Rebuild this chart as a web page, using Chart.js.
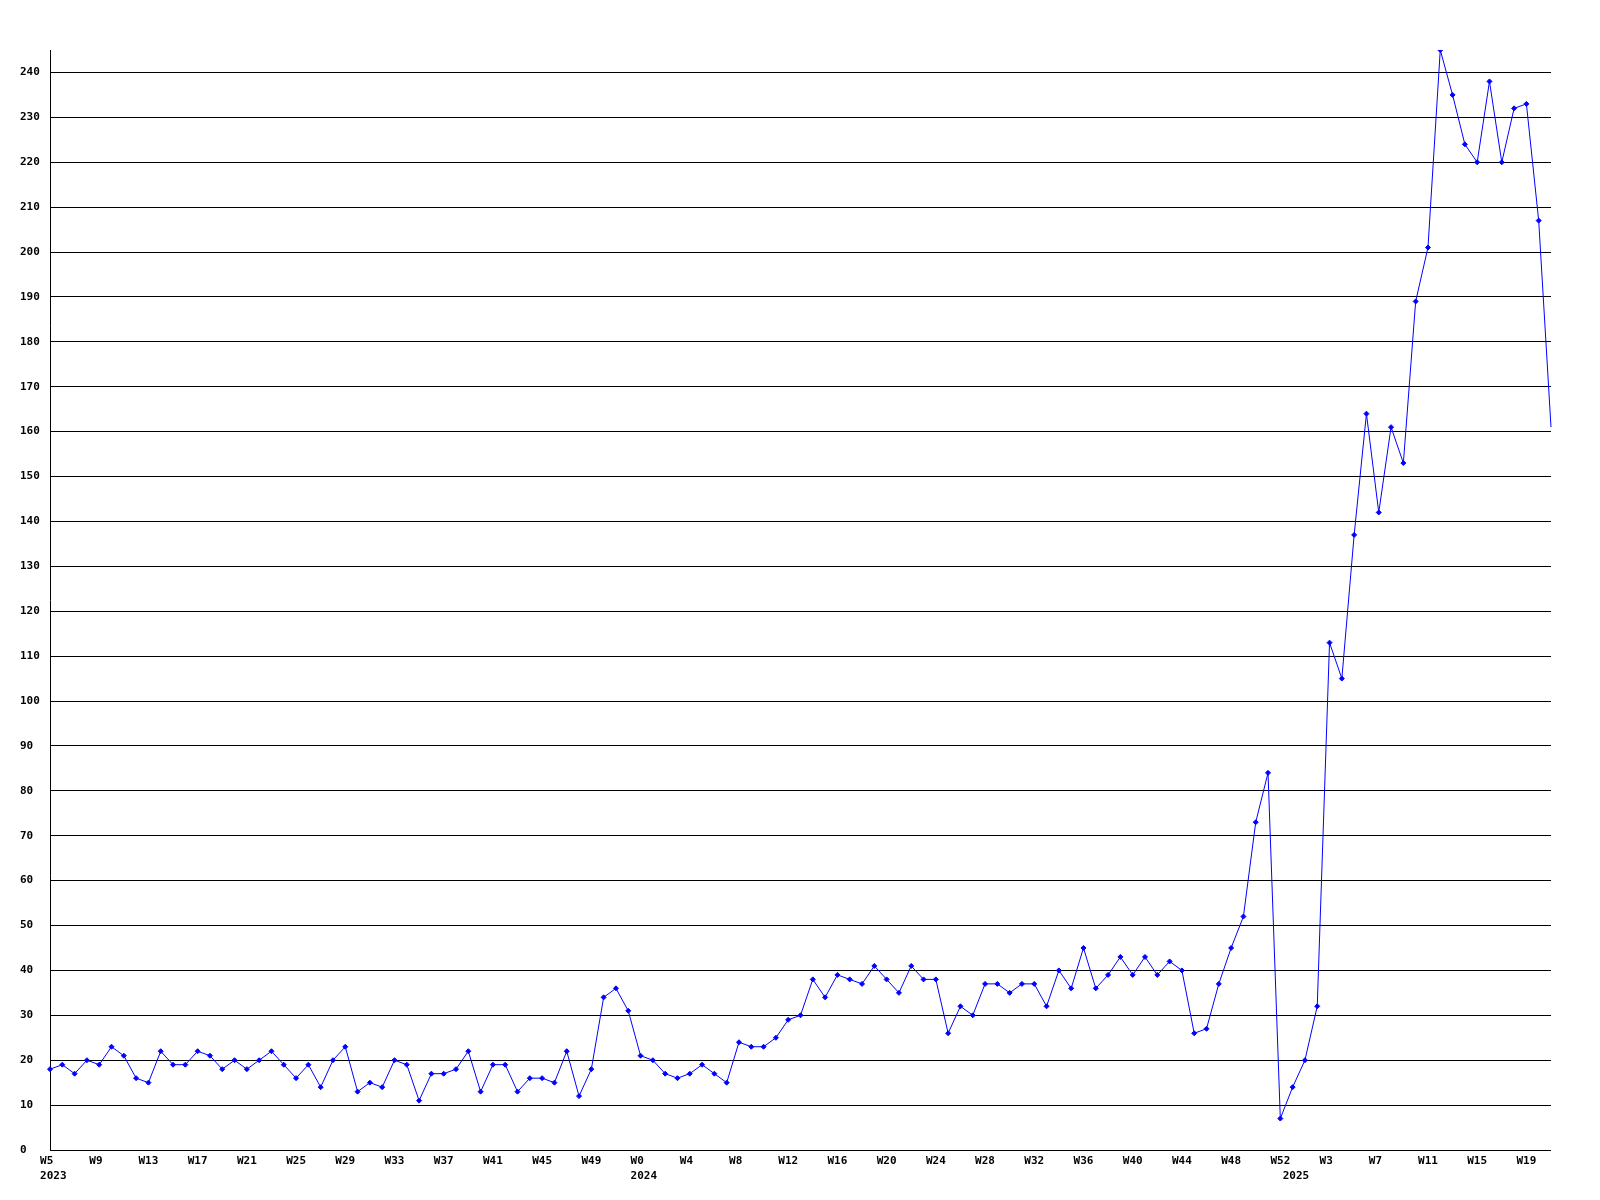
<!DOCTYPE html>
<html>
<head>
<meta charset="utf-8">
<title>Weekly counts</title>
<script src="https://cdn.jsdelivr.net/npm/chart.js@4.4.1/dist/chart.umd.min.js"></script>
<style>
  html, body { margin: 0; padding: 0; background: #fff; }
  canvas { display: block; }
</style>
</head>
<body>
<canvas id="chart" width="1600" height="1200"></canvas>
<script>
// Weekly counts
const years = ['2023', '2024', '2025']
const firstWeek = [5, 0, 0]
const counts2023 = [18, 19, 17, 20, 19, 23, 21, 16, 15, 22, 19, 19, 22, 21, 18, 20, 18, 20, 22, 19,
  16, 19, 14, 20, 23, 13, 15, 14, 20, 19, 11, 17, 17, 18, 22, 13, 19, 19, 13, 16,
  16, 15, 22, 12, 18, 34, 36, 31]
const counts2024 = [21, 20, 17, 16, 17, 19, 17, 15, 24, 23, 23, 25, 29, 30, 38, 34, 39, 38, 37, 41,
  38, 35, 41, 38, 38, 26, 32, 30, 37, 37, 35, 37, 37, 32, 40, 36, 45, 36, 39, 43,
  39, 43, 39, 42, 40, 26, 27, 37, 45, 52, 73, 84, 7]
const counts2025 = [14, 20, 32, 113, 105, 137, 164, 142, 161, 153, 189, 201, 245, 235, 224, 220,
  238, 220, 232, 233, 207, 161]
const labelEvery = 4
const yMax = 245
const yStep = 10

// Build the category list (week + year) from the arrays above
const seriesByYear = [counts2023, counts2024, counts2025]
const weekLabels = []
const yearLabels = []
const values = []
seriesByYear.forEach((arr, y) => {
  arr.forEach((v, i) => {
    weekLabels.push('W' + (firstWeek[y] + i))
    yearLabels.push(i === 0 ? years[y] : '')
    values.push(v)
  })
})

const tickFont = { family: '"DejaVu Sans Mono", monospace', size: 11, weight: 'bold', lineHeight: '15px' }

new Chart(document.getElementById('chart'), {
  type: 'line',
  data: {
    labels: weekLabels,
    datasets: [{
      data: values,
      borderColor: '#0000ff',
      backgroundColor: '#0000ff',
      borderWidth: 1,
      tension: 0,
      fill: false,
      pointStyle: 'rectRot',
      pointRadius: ctx => (ctx.dataIndex === values.length - 1 ? 0 : 2.5),
      pointBorderWidth: 1,
    }],
  },
  options: {
    responsive: false,
    animation: false,
    events: [],
    layout: { padding: { left: 20, top: 50, right: 49, bottom: 0 } },
    plugins: {
      legend: { display: false },
      tooltip: { enabled: false },
    },
    scales: {
      x: {
        type: 'category',
        offset: false,
        grid: { display: false, drawTicks: false },
        border: { display: false },
        afterFit: s => { s.height = 50 },
        ticks: {
          autoSkip: false,
          maxRotation: 0,
          minRotation: 0,
          padding: 4,
          color: '#000',
          font: tickFont,
          // week label every 4th point, year under the first week of each year
          callback: function (val, i) {
            const week = i % labelEvery === 0 ? weekLabels[i].padEnd(3, ' ') : ''
            if (yearLabels[i]) return [week, ' ' + yearLabels[i]]
            return week
          },
        },
      },
      y: {
        min: 0,
        max: yMax,
        grid: { color: '#000', lineWidth: 1, drawTicks: false },
        border: { color: '#000', width: 1 },
        afterFit: s => { s.width = 30 },
        ticks: {
          stepSize: yStep,
          includeBounds: false,
          crossAlign: 'far',
          padding: 10,
          color: '#000',
          font: tickFont,
        },
      },
    },
  },
})
</script>
</body>
</html>
